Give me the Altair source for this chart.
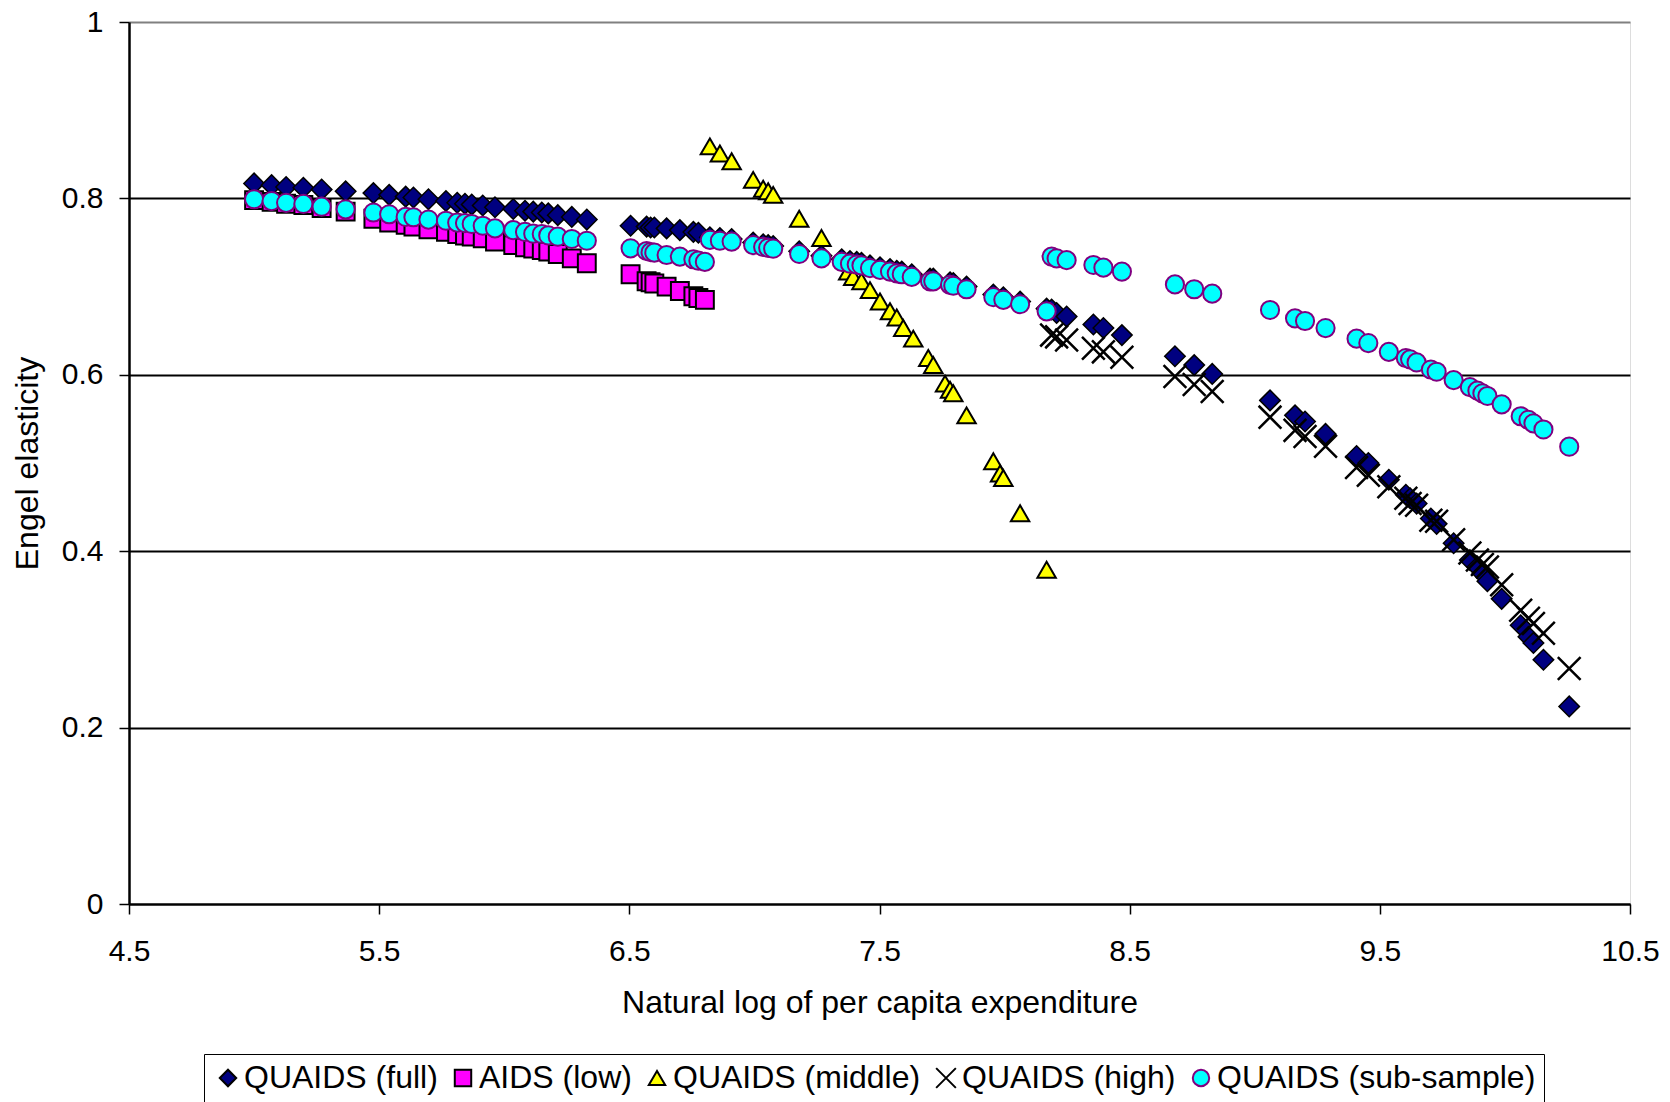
import altair as alt
import pandas as pd

SERIES = ["QUAIDS (full)", "AIDS (low)", "QUAIDS (middle)", "QUAIDS (high)", "QUAIDS (sub-sample)"]

# x positions (natural log of per capita expenditure) by segment
X_SEG1 = [5.00, 5.07, 5.128, 5.197, 5.27, 5.366, 5.477, 5.54, 5.606, 5.637, 5.697, 5.767, 5.812,
          5.843, 5.87, 5.914, 5.963, 6.036, 6.083, 6.116, 6.15, 6.176, 6.214, 6.27, 6.33]
X_SEG2 = [6.505, 6.569, 6.585, 6.600, 6.649, 6.702, 6.756, 6.776, 6.802]
X_SEG3 = [6.822, 6.862, 6.909, 6.995, 7.035, 7.055, 7.075, 7.179, 7.268, 7.349, 7.382, 7.409,
          7.428, 7.462, 7.502, 7.542, 7.569, 7.589, 7.629, 7.702, 7.715, 7.782, 7.795, 7.848,
          7.955, 7.995, 8.062, 8.168]
X_SEG4 = [8.188, 8.208, 8.248, 8.355, 8.395, 8.469]
X_SEG5 = [8.681, 8.758, 8.830]
X_SEG6 = [9.061, 9.161, 9.201, 9.283, 9.407, 9.454, 9.536, 9.604, 9.621, 9.647, 9.704, 9.727,
          9.795, 9.860, 9.890, 9.910, 9.930, 9.987, 10.063, 10.094, 10.114, 10.154, 10.257]

# QUAIDS (full)
FULL_X = X_SEG1 + X_SEG2[:8] + X_SEG3 + X_SEG4 + X_SEG5 + X_SEG6
FULL_Y = [0.817, 0.815, 0.813, 0.812, 0.810, 0.808, 0.806, 0.804, 0.802, 0.801, 0.799, 0.797, 0.795,
          0.794, 0.793, 0.792, 0.790, 0.788, 0.786, 0.785, 0.784, 0.783, 0.781, 0.779, 0.776,
          0.769, 0.768, 0.767, 0.767, 0.766, 0.764, 0.762, 0.761,
          0.756, 0.755, 0.754, 0.750, 0.748, 0.747, 0.746, 0.740, 0.735, 0.731, 0.729, 0.728,
          0.727, 0.724, 0.722, 0.720, 0.718, 0.717, 0.714, 0.709, 0.709, 0.705, 0.704, 0.700,
          0.691, 0.688, 0.683, 0.675,
          0.674, 0.670, 0.666, 0.657, 0.653, 0.645,
          0.621, 0.611, 0.601,
          0.571, 0.554, 0.547, 0.533, 0.508, 0.500, 0.481, 0.464, 0.460, 0.454, 0.437, 0.431,
          0.409, 0.390, 0.382, 0.375, 0.366, 0.346, 0.316, 0.303, 0.296, 0.277, 0.224]

# AIDS (low)
LOW_X = X_SEG1 + X_SEG2
LOW_Y = [0.798, 0.796, 0.794, 0.7925, 0.789, 0.785, 0.777, 0.7725, 0.770, 0.768, 0.765, 0.762, 0.7596,
         0.758, 0.7566, 0.7547, 0.751, 0.747, 0.7445, 0.743, 0.7415, 0.7396, 0.737, 0.732, 0.7264,
         0.714, 0.706, 0.705, 0.7035, 0.700, 0.695, 0.689, 0.687, 0.685]

# QUAIDS (middle)
MID_X = [6.822, 6.862, 6.909, 6.995, 7.035, 7.055, 7.075, 7.179, 7.268, 7.375, 7.395, 7.428,
         7.462, 7.502, 7.542, 7.569, 7.595, 7.635, 7.695, 7.715, 7.762, 7.782, 7.795, 7.848,
         7.955, 7.982, 7.995, 8.062, 8.168]
MID_Y = [0.859, 0.851, 0.842, 0.821, 0.811, 0.808, 0.804, 0.777, 0.755, 0.717, 0.711, 0.706,
         0.696, 0.683, 0.672, 0.665, 0.653, 0.641, 0.619, 0.611, 0.590, 0.583, 0.579, 0.554,
         0.502, 0.488, 0.483, 0.443, 0.379]

# QUAIDS (high)
HIGH_X = X_SEG4 + X_SEG5 + X_SEG6
HIGH_Y = [0.645, 0.643, 0.6395, 0.630, 0.626, 0.620,
          0.598, 0.589, 0.581,
          0.552, 0.537, 0.530, 0.519, 0.495, 0.486, 0.473, 0.460, 0.454, 0.452, 0.435, 0.434,
          0.413, 0.398, 0.390, 0.385, 0.382, 0.362, 0.333, 0.324, 0.318, 0.307, 0.267]

# QUAIDS (sub-sample)
SUB_X = X_SEG1 + X_SEG2 + X_SEG3 + X_SEG4 + X_SEG5 + X_SEG6
SUB_Y = [0.799, 0.797, 0.795, 0.7937, 0.7906, 0.7876, 0.784, 0.782, 0.779, 0.7786, 0.776, 0.7747,
         0.7725, 0.772, 0.771, 0.769, 0.766, 0.764, 0.762, 0.760, 0.7596, 0.758, 0.7566, 0.754, 0.752,
         0.7434, 0.7404, 0.739, 0.7385, 0.7358, 0.734, 0.731, 0.7294, 0.728,
         0.753, 0.752, 0.751, 0.747, 0.745, 0.744, 0.743, 0.737, 0.732, 0.728, 0.726, 0.725,
         0.724, 0.721, 0.719, 0.717, 0.715, 0.714, 0.711, 0.706, 0.706, 0.702, 0.701, 0.697,
         0.688, 0.685, 0.680, 0.672,
         0.734, 0.732, 0.730, 0.7245, 0.7215, 0.717,
         0.7025, 0.697, 0.692,
         0.6735, 0.664, 0.661, 0.653, 0.641, 0.636, 0.626, 0.619, 0.6175, 0.614, 0.606, 0.6035,
         0.594, 0.586, 0.582, 0.579, 0.576, 0.5665, 0.553, 0.549, 0.545, 0.538, 0.5185]

X_TICKS = [4.5, 5.5, 6.5, 7.5, 8.5, 9.5, 10.5]
Y_TICKS = [0, 0.2, 0.4, 0.6, 0.8, 1]

rows = []
for name, xs, ys in [(SERIES[0], FULL_X, FULL_Y), (SERIES[1], LOW_X, LOW_Y),
                     (SERIES[2], MID_X, MID_Y), (SERIES[3], HIGH_X, HIGH_Y),
                     (SERIES[4], SUB_X, SUB_Y)]:
    for xv, yv in zip(xs, ys):
        rows.append({"series": name, "x": xv, "y": yv})
df = pd.DataFrame(rows)

FONT = "Liberation Sans, Arial, sans-serif"
X_PATH = "M-1.2,-1.2L1.2,1.2M-1.2,1.2L1.2,-1.2"
shape_range = ["diamond", "square", "triangle-up", X_PATH, "circle"]
fill_range = ["#000080", "#FF00FF", "#FFFF00", "transparent", "#00FFFF"]
stroke_range = ["#000000", "#000000", "#000000", "#000000", "#800080"]
size_list = [420, 320, 340, 360, 330]
stroke_w = [1.5, 2, 2, 2.5, 2]

legend = alt.Legend(title=None, orient="none", legendX=75, legendY=1032, direction="horizontal",
                    columns=5, symbolSize=270, symbolStrokeWidth=2, labelFontSize=32,
                    labelFont=FONT, labelColor="black", labelOffset=0, columnPadding=9,
                    padding=8, strokeColor="black", labelLimit=1000)

base = alt.Chart(df).encode(
    x=alt.X("x:Q", scale=alt.Scale(domain=[4.5, 10.5], nice=False, zero=False),
            axis=alt.Axis(values=X_TICKS, format=".1f", grid=False,
                          title="Natural log of per capita expenditure",
                          domainColor="black", domainWidth=2, tickColor="black", tickWidth=1.5,
                          tickSize=10, labelFontSize=30, labelFont=FONT, labelColor="black",
                          labelPadding=22, labelFlush=False, labelOverlap=False,
                          titleFontSize=32, titleFont=FONT, titleFontWeight="normal",
                          titleColor="black", titleY=108, titleBaseline="alphabetic")),
    y=alt.Y("y:Q", scale=alt.Scale(domain=[0, 1], nice=False, zero=False),
            axis=alt.Axis(values=Y_TICKS, format=".1~f", grid=True,
                          gridColor={"condition": {"test": "datum.value >= 0.99", "value": "#808080"},
                                     "value": "black"},
                          gridWidth=1.8, title="Engel elasticity",
                          domainColor="black", domainWidth=2.5, tickColor="black", tickWidth=1.5,
                          tickSize=10, labelFontSize=30, labelFont=FONT, labelColor="black",
                          labelPadding=16, labelOverlap=False,
                          titleFontSize=32, titleFont=FONT, titleFontWeight="normal",
                          titleColor="black", titleX=-92, titleBaseline="alphabetic")),
    shape=alt.Shape("series:N", scale=alt.Scale(domain=SERIES, range=shape_range), legend=legend),
    fill=alt.Fill("series:N", scale=alt.Scale(domain=SERIES, range=fill_range), legend=legend),
    stroke=alt.Stroke("series:N", scale=alt.Scale(domain=SERIES, range=stroke_range), legend=legend),
)

layers = [
    base.transform_filter(alt.datum.series == s).mark_point(
        filled=True, size=sz, strokeWidth=sw, opacity=1)
    for s, sz, sw in zip(SERIES, size_list, stroke_w)
]

chart = alt.layer(*layers).properties(
    width=1501, height=882,
    padding={"left": 121, "top": 14, "right": 32, "bottom": 198},
    autosize=alt.AutoSizeParams(type="none"),
    background="white",
).configure_view(stroke="#808080", strokeWidth=1.5).configure(font=FONT)

chart.save("out.html", embed_options={"renderer": "svg", "actions": False})
